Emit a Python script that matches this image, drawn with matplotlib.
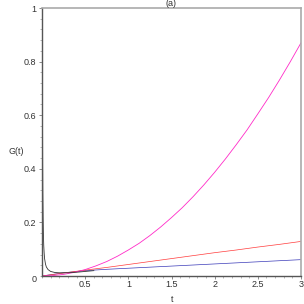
import matplotlib
matplotlib.use("Agg")
import matplotlib.pyplot as plt
from matplotlib.ticker import MultipleLocator

# values
t_grid = [0, 0.25, 0.5, 0.75, 1.0, 1.25, 1.5, 1.75, 2.0, 2.25, 2.5, 2.75, 3.0]
g_red = [0, 0.011, 0.022, 0.032, 0.043, 0.054, 0.065, 0.076, 0.087, 0.097, 0.108, 0.118, 0.129]
g_blue = [0, 0.012, 0.020, 0.025, 0.029, 0.033, 0.037, 0.041, 0.045, 0.049, 0.053, 0.057, 0.061]

t_fine = [0, 0.125, 0.25, 0.375, 0.5, 0.625, 0.75, 0.875, 1.0, 1.125, 1.25, 1.375,
          1.5, 1.625, 1.75, 1.875, 2.0, 2.125, 2.25, 2.375, 2.5, 2.625, 2.75, 2.875, 3.0]
g_magenta = [0, 0.0015, 0.006, 0.0136, 0.024, 0.0378, 0.054, 0.074, 0.097, 0.122,
             0.151, 0.183, 0.218, 0.255, 0.296, 0.340, 0.387, 0.437, 0.490, 0.545,
             0.605, 0.666, 0.731, 0.799, 0.870]

t_black = [0.004, 0.006, 0.008, 0.01, 0.013, 0.016, 0.02, 0.025, 0.03, 0.04, 0.05,
           0.07, 0.1, 0.15, 0.2, 0.3, 0.4, 0.5, 0.6]
g_black = [1.0, 0.62, 0.42, 0.31, 0.22, 0.16, 0.115, 0.085, 0.065, 0.045, 0.034,
           0.024, 0.017, 0.013, 0.012, 0.012, 0.014, 0.017, 0.020]

xticks = [0.5, 1, 1.5, 2, 2.5, 3]
yticks = [0.2, 0.4, 0.6, 0.8, 1]

plt.rcParams['font.family'] = ['Liberation Sans', 'DejaVu Sans']

fig = plt.figure(figsize=(3.04, 3.04), dpi=100)
ax = fig.add_axes([42/304, 28/304, 259/304, 268/304])

ax.plot(t_grid, g_blue, color='#3a3ab8', lw=0.5)
ax.plot(t_grid, g_red, color='#ff3b3b', lw=0.5)
ax.plot(t_fine, g_magenta, color='#ff2bc8', lw=0.6)
ax.plot(t_black, g_black, color='#333333', lw=0.6)

ax.set_xlim(0, 3)
ax.set_ylim(0, 1)
ax.set_xticks(xticks)
ax.set_xticklabels(['0.5', '1', '1.5', '2', '2.5', '3'])
ax.set_yticks(yticks)
ax.set_yticklabels(['0.2', '0.4', '0.6', '0.8', '1'])
ax.xaxis.set_minor_locator(MultipleLocator(0.1))
ax.yaxis.set_minor_locator(MultipleLocator(0.04))
ax.tick_params(which='major', length=2.5, width=0.6, color='#777777', labelsize=6.5,
               labelcolor='#333333', pad=1.5)
ax.tick_params(axis='x', which='major', pad=0.5)
ax.tick_params(which='minor', length=1.5, width=0.5, color='#999999')

for s in ['top', 'right']:
    ax.spines[s].set_color('#aaaaaa')
    ax.spines[s].set_linewidth(1.2)
for s in ['left', 'bottom']:
    ax.spines[s].set_color('#555555')
    ax.spines[s].set_linewidth(1.0)

# shared origin label sits below-left of the corner
fig.text(34/304, 25/304, '0', fontsize=6.5, color='#333333', ha='center', va='center')
fig.text(172/304, 5/304, 't', fontsize=6.5, color='#333333', ha='center', va='center')
fig.text(16/304, 152/304, 'G(t)', fontsize=6.5, color='#333333', ha='center', va='center')
ax.set_title('(a)', fontsize=6.5, color='#333333', pad=1)

fig.savefig('out.png', dpi=100)
